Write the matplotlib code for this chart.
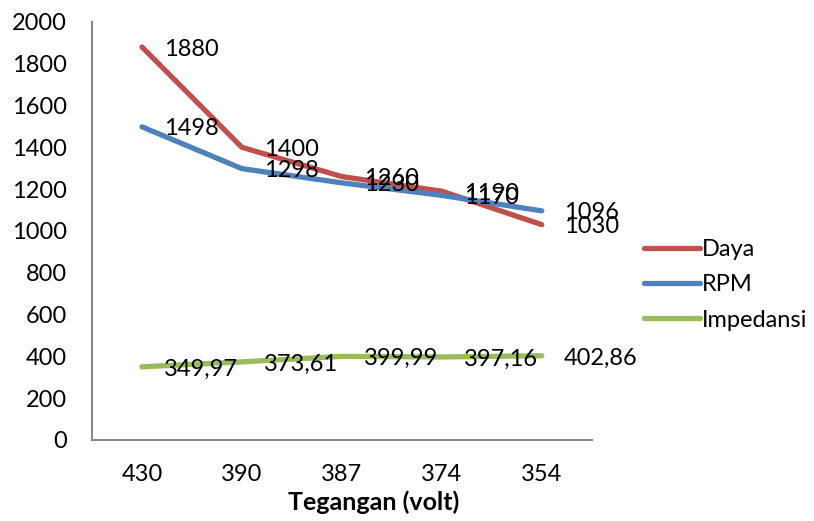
import matplotlib
matplotlib.use("Agg")
import matplotlib.pyplot as plt

plt.rcParams['font.family'] = ['Lato', 'DejaVu Sans']

# data
tegangan = ['430', '390', '387', '374', '354']
daya = [1880, 1400, 1260, 1190, 1030]
rpm = [1498, 1298, 1230, 1170, 1096]
impedansi = [349.97, 373.61, 399.99, 397.16, 402.86]

series = [
    ('Daya', daya, '#C0504D'),
    ('RPM', rpm, '#4F81BD'),
    ('Impedansi', impedansi, '#9BBB59'),
]


def fmt(v):
    # decimal comma, integers stay plain
    if float(v).is_integer():
        return f"{int(v)}"
    return f"{v:.2f}".replace('.', ',')


fig = plt.figure(figsize=(8.14, 5.21), dpi=100)
ax = fig.add_axes([0.113, 0.1555, 0.614, 0.8025])

x = range(len(tegangan))
for name, vals, col in series:
    ax.plot(x, vals, color=col, lw=3.8, solid_capstyle='round', label=name)
    for xi, v in zip(x, vals):
        ax.annotate(fmt(v), (xi, v), xytext=(16, -1.5), textcoords='offset points',
                    va='center', ha='left', fontsize=17, color='black')

ax.set_xlim(-0.5, len(tegangan) - 0.5)
ax.set_ylim(0, 2000)
ax.set_yticks(range(0, 2001, 200))
ax.set_xticks(list(x))
ax.set_xticklabels(tegangan)
ax.tick_params(axis='both', length=0, labelsize=17)
ax.tick_params(axis='y', pad=18)
ax.tick_params(axis='x', pad=17)

for s in ['top', 'right']:
    ax.spines[s].set_visible(False)
for s in ['left', 'bottom']:
    ax.spines[s].set_color('#888888')
    ax.spines[s].set_linewidth(1.5)

ax.set_xlabel('Tegangan (volt)', fontsize=18, fontweight='bold')
ax.xaxis.set_label_coords(0.564, -0.12)

fig.legend(loc='center left', bbox_to_anchor=(0.779, 0.453), frameon=False,
           fontsize=17, handlelength=2.4, handletextpad=0.05, labelspacing=0.6,
           borderaxespad=0)

fig.savefig('out.png', dpi=100)
